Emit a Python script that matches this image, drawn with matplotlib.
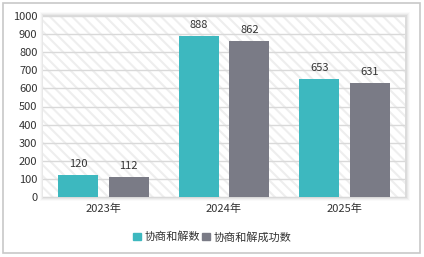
import matplotlib
matplotlib.use('Agg')
import matplotlib.pyplot as plt
from matplotlib.patches import Rectangle, Patch
import numpy as np

plt.rcParams['font.family'] = ['Noto Sans CJK SC', 'DejaVu Sans']
plt.rcParams['hatch.color'] = '#eeeeee'
plt.rcParams['hatch.linewidth'] = 1.5

years = ['2023年', '2024年', '2025年']
mediated = [120, 888, 653]
success = [112, 862, 631]
labels = ['协商和解数', '协商和解成功数']
colors = ['#3db8bf', '#7a7b86']
yticks = [0, 100, 200, 300, 400, 500, 600, 700, 800, 900, 1000]

W, H = 424, 257
fig = plt.figure(figsize=(W / 100, H / 100), dpi=100)

# outer frame
fig.patches.append(Rectangle((3 / W, 4 / H), 417 / W, 250 / H, transform=fig.transFigure,
                             fill=False, edgecolor='#c8c8c8', linewidth=1.2, zorder=-2))

x0, x1, y0, y1 = 43, 405, 197, 16
# soft shadow around plot area
for i, a in enumerate([0.05, 0.04, 0.03, 0.02]):
    d = i + 1
    fig.patches.append(Rectangle(((x0 - d + 1) / W, (H - y0 - d) / H), (x1 - x0 + 2 * d) / W,
                                 (y0 - y1 + 2 * d) / H, transform=fig.transFigure,
                                 facecolor='black', alpha=a, edgecolor='none', zorder=-1))

ax = fig.add_axes([x0 / W, (H - y0) / H, (x1 - x0) / W, (y0 - y1) / H])
ax.patch.set_facecolor('white')
ax.patch.set_hatch('\\\\\\')
ax.patch.set_edgecolor('#eeeeee')
ax.patch.set_linewidth(0)

x = np.arange(len(years))
w = 0.33
off = 0.21
b1 = ax.bar(x - off, mediated, w, color=colors[0], zorder=3)
b2 = ax.bar(x + off, success, w, color=colors[1], zorder=3)
for bars, vals in [(b1, mediated), (b2, success)]:
    for r, v in zip(bars, vals):
        ax.text(r.get_x() + r.get_width() / 2, v + 32, str(v), ha='center', va='bottom',
                fontsize=8, color='#333333')

ax.set_xlim(-0.5, 2.5)
ax.set_ylim(0, 1000)
ax.set_yticks(yticks)
ax.yaxis.grid(True, color='#d9d9d9', linewidth=1)
ax.set_axisbelow(True)
for s in ['top', 'right', 'left']:
    ax.spines[s].set_visible(False)
ax.spines['bottom'].set_color('#d9d9d9')
ax.tick_params(axis='both', length=0, labelsize=8, colors='#333333', pad=4)
ax.set_xticks(x)
ax.set_xticklabels(years)
ax.tick_params(axis='x', pad=5)

handles = [Patch(color=c) for c in colors]
fig.legend(handles, labels, loc='center', bbox_to_anchor=(0.5, 1 - 237 / H), ncol=2,
           frameon=False, fontsize=8, handlelength=0.7, handleheight=0.7,
           handletextpad=0.3, columnspacing=0.2, labelcolor='#333333')

fig.savefig('out.png', dpi=100)
